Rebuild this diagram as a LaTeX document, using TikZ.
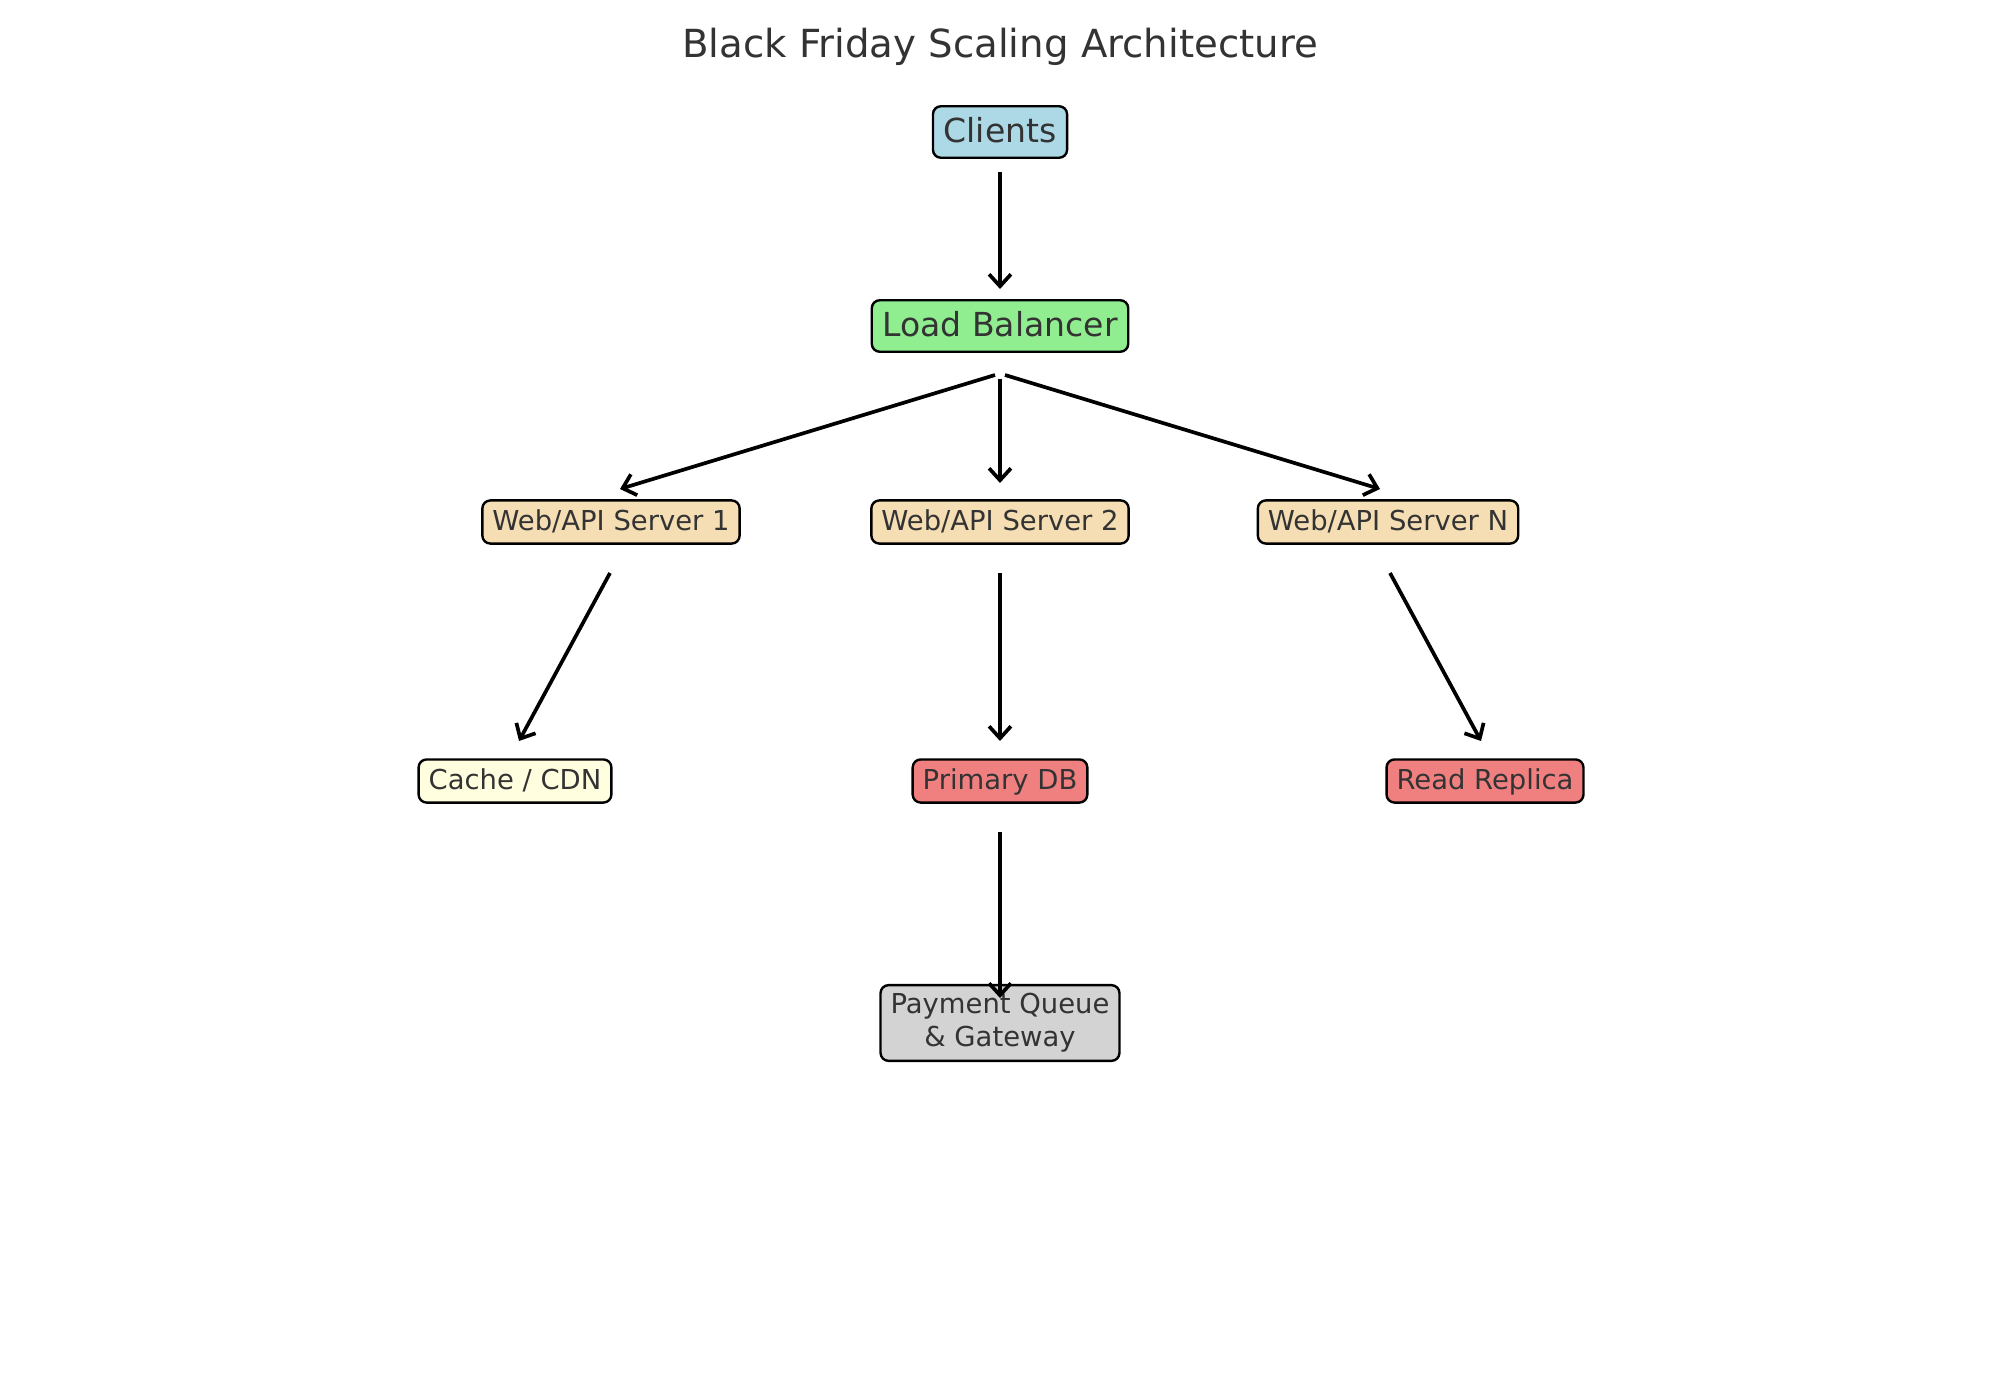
\documentclass[tikz,border=0pt]{standalone}
\usepackage{fontspec}
\setmainfont{DejaVu Sans}
\usetikzlibrary{arrows.meta}
\usetikzlibrary{calc}
\definecolor{txt}{HTML}{333333}
\definecolor{lblue}{HTML}{ADD8E6}
\definecolor{lgreen}{HTML}{90EE90}
\definecolor{wheat}{HTML}{F5DEB3}
\definecolor{lyellow}{HTML}{FFFFE0}
\definecolor{lcoral}{HTML}{F08080}
\definecolor{lgray}{HTML}{D3D3D3}

\begin{document}
\begin{tikzpicture}[x=0.01cm,y=-0.01cm,
    box/.style={draw=black,line width=0.68pt,rounded corners=0.08cm,text=txt},
    big/.style={box,font=\fontsize{9.4}{11}\selectfont,
      inner xsep=0.106cm,inner ysep=0.1cm,text height=0.265cm,text depth=0.05cm},
    small/.style={box,font=\fontsize{7.8}{9.4}\selectfont,
      inner xsep=0.1cm,inner ysep=0.083cm,text height=0.215cm,text depth=0.05cm},
    link/.style={line width=1.05pt,-{Straight Barb[length=3.4pt,width=6.2pt]}}]
    \useasboundingbox (0,0) rectangle (2000,1400);
    \node[text=txt,font=\fontsize{11}{13}\selectfont] (title) at (1000,47) {Black Friday Scaling Architecture};

    \node[big,fill=lblue] (clients) at (1000,132) {Clients};
    \node[big,fill=lgreen] (lb) at (1000,326) {Load Balancer};

    \foreach \x/\t/\k in {611/1/1,1000/2/2,1388/N/n}
        \node[small,fill=wheat] (s\k) at (\x,522) {Web/API Server \t};

    \node[small,fill=lyellow] (cache) at (515,781) {Cache / CDN};
    \node[small,fill=lcoral] (db) at (1000,781) {Primary DB};
    \node[small,fill=lcoral] (rr) at (1485,781) {Read Replica};
    \node[small,fill=lgray,align=center,text height=,text depth=] (pay) at (1000,1023) {Payment Queue\\\& Gateway};

    \foreach \a/\ax/\ay/\b/\bx/\by in
       {clients/0/40/lb/0/-37,lb/-5/49/s1/9/-33,lb/0/53/s2/0/-39,lb/5/49/sn/-8/-33,
        s1/-1/51/cache/4/-40,s2/0/51/db/0/-40,sn/2/51/rr/-4/-40,db/0/51/pay/0/-25}
      \draw[link] ($(\a.center)+(\ax,\ay)$) -- ($(\b.center)+(\bx,\by)$);
\end{tikzpicture}
\end{document}
